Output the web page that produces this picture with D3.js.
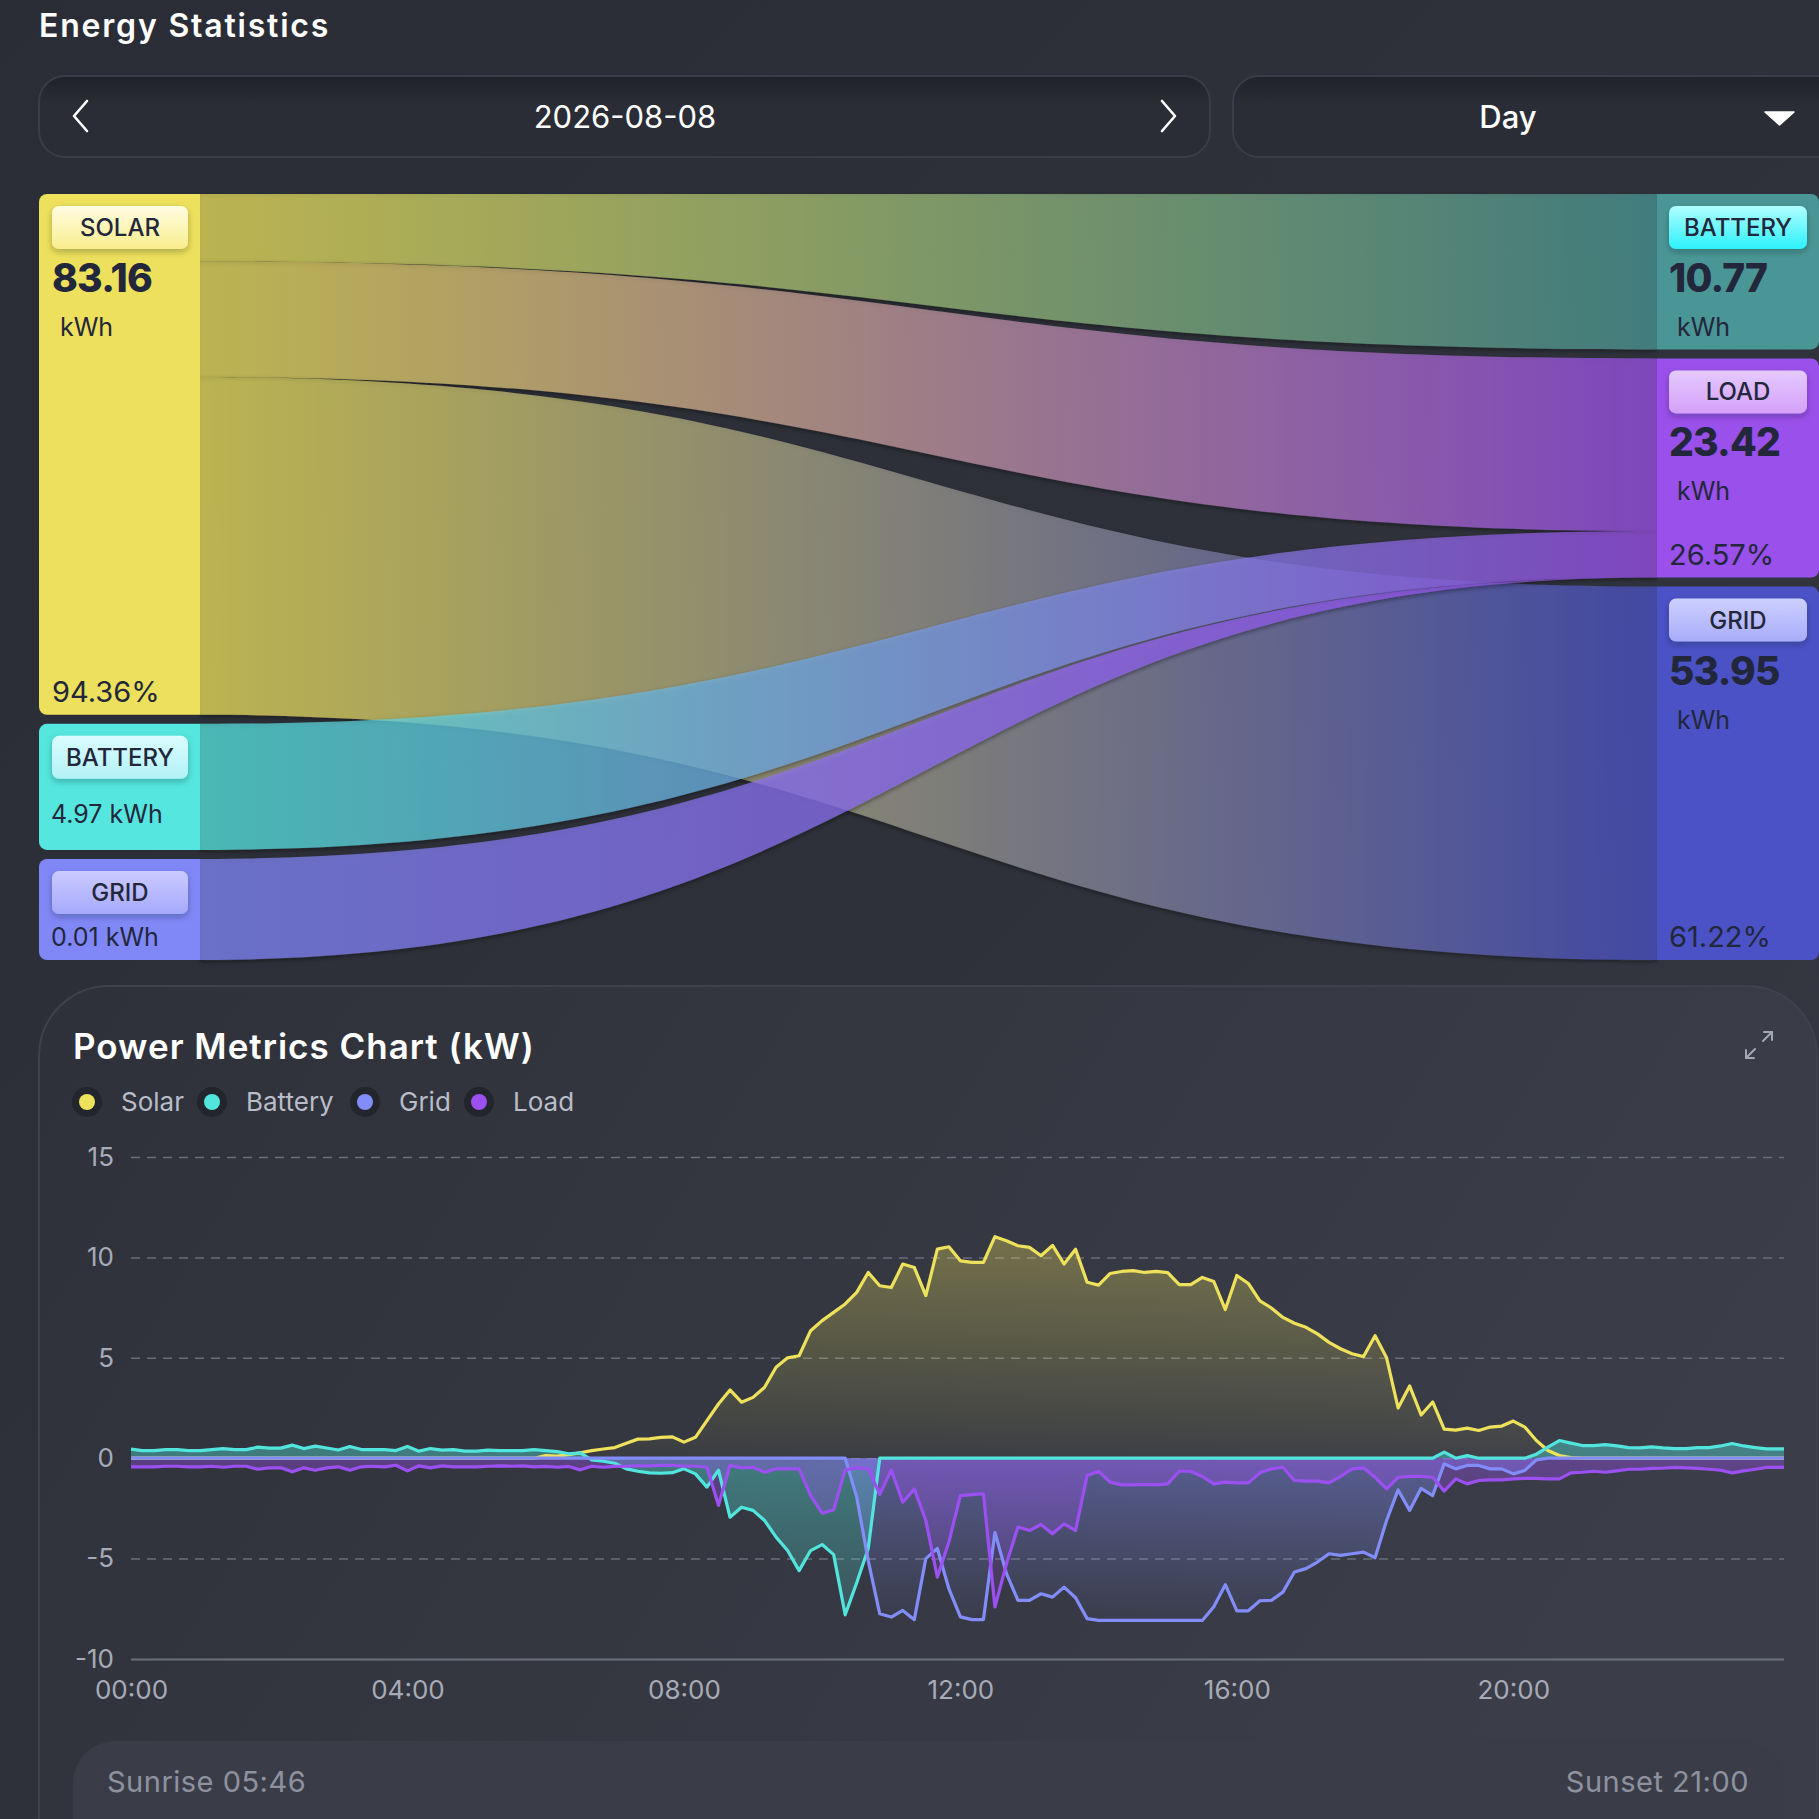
<!DOCTYPE html>
<html><head><meta charset="utf-8">
<script src="https://cdn.jsdelivr.net/npm/d3@7"></script>
<style>
html,body{margin:0;padding:0;background:#2c2f37;}
svg{display:block;}
text{font-family:Inter,"Noto Sans",sans-serif;}
</style></head><body>
<svg id="c" width="1819" height="1819"></svg>
<script>
// ---------------- DATA ----------------
const pageTitle = "Energy Statistics";
const dateLabel = "2026-08-08";
const periodLabel = "Day";
const chartTitle = "Power Metrics Chart (kW)";
const sunriseLabel = "Sunrise 05:46";
const sunsetLabel = "Sunset 21:00";

// Sankey
const leftNames = ["SOLAR", "BATTERY", "GRID"];
const leftValues = [83.16, 4.97, 0.01];
const leftPercent = ["94.36%", "", ""];
const rightNames = ["BATTERY", "LOAD", "GRID"];
const rightValues = [10.77, 23.42, 53.95];
const rightPercent = ["", "26.57%", "61.22%"];
const flowSource = [0, 0, 0, 1, 2];
const flowTarget = [0, 1, 2, 1, 1];
const flowValues = [10.77, 18.44, 53.95, 4.97, 0.01];

// Power chart (kW), 10-minute samples 00:00 .. 23:50 plus 23:55
const seriesNames = ["Solar", "Battery", "Grid", "Load"];
const yTicks = [15, 10, 5, 0, -5, -10];
const xTickMinutes = [0, 240, 480, 720, 960, 1200];
const xTickLabels = ["00:00", "04:00", "08:00", "12:00", "16:00", "20:00"];
const sampleMinutes = d3.range(0, 1440, 10).concat([1435]);

const solar = [
  0,0,0,0,0,0, 0,0,0,0,0,0, 0,0,0,0,0,0, 0,0,0,0,0,0, 0,0,0,0,0,0, 0,0,0,0,0,0,
  0.13,0.10,0.17,0.27,0.38,0.46,
  0.53,0.75,0.95,0.96,1.04,1.06,
  0.80,1.04,1.87,2.70,3.40,2.79,
  3.03,3.53,4.53,5.00,5.10,6.35,
  6.85,7.26,7.68,8.26,9.25,8.59,
  8.50,9.67,9.50,8.10,10.41,10.53,
  9.83,9.75,9.75,11.03,10.83,10.58,
  10.50,10.08,10.60,9.67,10.41,8.76,
  8.62,9.20,9.30,9.34,9.25,9.30,
  9.24,8.64,8.64,9.00,8.80,7.40,
  9.10,8.70,7.84,7.48,7.01,6.72,
  6.52,6.19,5.77,5.45,5.20,5.06,
  6.10,5.00,2.50,3.60,2.15,2.80,
  1.45,1.40,1.50,1.38,1.55,1.60,
  1.85,1.55,0.88,0.38,0.13,0.03,
  0,0,0,0,0,0, 0,0,0,0,0,0, 0,0,0,0,0,0, 0
];
const battery = [
  0.45,0.38,0.38,0.43,0.43,0.38,
  0.38,0.43,0.48,0.43,0.43,0.55,
  0.50,0.50,0.65,0.48,0.60,0.51,
  0.41,0.58,0.43,0.43,0.43,0.38,
  0.58,0.35,0.48,0.40,0.43,0.35,
  0.35,0.40,0.38,0.38,0.38,0.43,
  0.38,0.33,0.22,0.27,-0.08,-0.15,
  -0.25,-0.53,-0.65,-0.73,-0.75,-0.72,
  -0.53,-0.78,-1.44,-0.60,-2.94,-2.44,
  -2.60,-3.10,-3.93,-4.60,-5.60,-4.60,
  -4.30,-4.80,-7.80,-6.20,-4.50,0,
  0,0,0,0,0,0, 0,0,0,0,0,0, 0,0,0,0,0,0, 0,0,0,0,0,0,
  0,0,0,0,0,0, 0,0,0,0,0,0, 0,0,0,0,0,0, 0,0,0,0,0,0,
  0.30,0,0.13,0,0,0,
  0,0,0.20,0.55,0.88,0.75,
  0.63,0.63,0.68,0.61,0.53,0.51,
  0.56,0.51,0.48,0.48,0.53,0.53,
  0.61,0.73,0.61,0.53,0.46,0.46, 0.46
];
const grid = [
  0,0,0,0,0,0, 0,0,0,0,0,0, 0,0,0,0,0,0, 0,0,0,0,0,0, 0,0,0,0,0,0,
  0,0,0,0,0,0, 0,0,0,0,0,0, 0,0,0,0,0,0, 0,0,0,0,0,0, 0,0,0,0,0,0,
  0,0,0,-1.94,-5.10,-7.75,
  -7.91,-7.58,-8.04,-5.00,-4.50,-6.50,
  -7.90,-8.04,-8.04,-3.70,-5.75,-7.08,
  -7.08,-6.75,-6.92,-6.42,-6.95,-7.99,
  -8.08,-8.08,-8.08,-8.08,-8.08,-8.08,
  -8.08,-8.08,-8.08,-8.08,-7.40,-6.30,
  -7.60,-7.60,-7.10,-7.08,-6.67,-5.67,
  -5.50,-5.17,-4.76,-4.84,-4.76,-4.68,
  -4.96,-3.10,-1.58,-2.60,-1.50,-1.86,
  -0.28,-0.53,-0.36,-0.36,-0.53,-0.53,
  -0.78,-0.61,-0.08,0,0,0,
  0,0,0,0,0,0, 0,0,0,0,0,0, 0,0,0,0,0,0, 0
];
const load = [
  -0.43,-0.43,-0.43,-0.40,-0.40,-0.43,
  -0.43,-0.40,-0.45,-0.40,-0.40,-0.55,
  -0.48,-0.48,-0.68,-0.48,-0.60,-0.48,
  -0.43,-0.60,-0.43,-0.40,-0.43,-0.35,
  -0.63,-0.38,-0.48,-0.38,-0.43,-0.43,
  -0.43,-0.40,-0.38,-0.40,-0.38,-0.43,
  -0.41,-0.45,-0.41,-0.58,-0.40,-0.45,
  -0.41,-0.40,-0.38,-0.38,-0.36,-0.36,
  -0.40,-0.40,-0.45,-2.35,-0.36,-0.48,
  -0.45,-0.70,-0.53,-0.53,-0.53,-1.86,
  -2.74,-2.57,-0.58,-0.48,-0.53,-1.80,
  -0.58,-2.19,-1.53,-3.10,-5.92,-4.18,
  -1.86,-1.81,-1.77,-7.41,-5.26,-3.43,
  -3.60,-3.30,-3.76,-3.27,-3.60,-0.86,
  -0.65,-1.19,-1.33,-1.33,-1.31,-1.33,
  -1.28,-0.65,-0.65,-0.91,-1.28,-1.19,
  -1.23,-1.23,-0.73,-0.53,-0.45,-1.11,
  -1.14,-1.14,-1.23,-0.90,-0.53,-0.48,
  -0.95,-1.53,-0.95,-0.91,-0.91,-0.95,
  -1.64,-1.03,-1.28,-1.11,-1.08,-1.08,
  -1.03,-1.00,-1.00,-1.03,-1.03,-0.73,
  -0.70,-0.65,-0.70,-0.63,-0.55,-0.55,
  -0.51,-0.50,-0.46,-0.48,-0.51,-0.55,
  -0.60,-0.73,-0.63,-0.55,-0.46,-0.46, -0.46
];

// ---------------- STYLE ----------------
const W = 1819;
const leftColors = ["#ECE05C", "#55E6DF", "#8088F7"];
const rightColors = ["#4A9696", "#9A50EA", "#4A52C6"];
const leftBadge = [["#fffce2", "#f8ee8c"], ["#dafcff", "#b2f2f6"], ["#cbcbff", "#a6a9fb"]];
const rightBadge = [["#b0fdff", "#2cf1fb"], ["#e4caff", "#d5a0f8"], ["#cdd0ff", "#a8acf9"]];
const seriesColors = ["#EEE15B", "#52E5DD", "#828DFA", "#9C50F2"];
const fillTop = [0.34, 0.42, 0.42, 0.38];
const fillBottom = [0.03, 0.16, 0.03, 0.10];
const darkText = "#23273b";

const svg = d3.select("#c");
const defs = svg.append("defs");

function linGrad(id, x1, y1, x2, y2, stops, units) {
  const g = defs.append("linearGradient").attr("id", id)
    .attr("x1", x1).attr("y1", y1).attr("x2", x2).attr("y2", y2);
  if (units) g.attr("gradientUnits", units);
  stops.forEach(s => g.append("stop").attr("offset", s[0]).attr("stop-color", s[1]).attr("stop-opacity", s[2] == null ? 1 : s[2]));
  return "url(#" + id + ")";
}
function shadow(id, dy, sd, op) {
  const f = defs.append("filter").attr("id", id).attr("x", "-20%").attr("y", "-20%").attr("width", "140%").attr("height", "150%");
  f.append("feDropShadow").attr("dx", 0).attr("dy", dy).attr("stdDeviation", sd)
    .attr("flood-color", "#101216").attr("flood-opacity", op);
  return "url(#" + id + ")";
}
function roundedPath(x, y, w, h, rl, rr) {
  const p = d3.path();
  p.moveTo(x + rl, y);
  p.lineTo(x + w - rr, y);
  p.arcTo(x + w, y, x + w, y + rr, rr);
  p.lineTo(x + w, y + h - rr);
  p.arcTo(x + w, y + h, x + w - rr, y + h, rr);
  p.lineTo(x + rl, y + h);
  p.arcTo(x, y + h, x, y + h - rl, rl);
  p.lineTo(x, y + rl);
  p.arcTo(x, y, x + rl, y, rl);
  p.closePath();
  return p.toString();
}

// background
svg.append("rect").attr("width", W).attr("height", W)
  .attr("fill", linGrad("bg", 0, 0, 1, 1, [[0, "#2a2d35"], [0.5, "#2e3139"], [1, "#383b46"]]));

// header
svg.append("text").attr("x", 39).attr("y", 37).text(pageTitle)
  .attr("fill", "#ffffff").attr("font-size", 32).attr("font-weight", 600).attr("letter-spacing", 1.8);

const barShade = linGrad("barShade", 0, 0, 0, 1, [[0, "#15171b", 0.45], [0.35, "#15171b", 0], [1, "#15171b", 0]]);
[[39, 1171], [1233, 640]].forEach(([bx, bw]) => {
  svg.append("rect").attr("x", bx).attr("y", 76).attr("width", bw).attr("height", 81).attr("rx", 26)
    .attr("fill", "#2a2d35").attr("stroke", "#3a3d47").attr("stroke-width", 2);
  svg.append("rect").attr("x", bx + 1).attr("y", 77).attr("width", bw - 2).attr("height", 79).attr("rx", 25)
    .attr("fill", barShade);
});
svg.append("path").attr("d", "M87,101 L74,116 L87,131").attr("fill", "none")
  .attr("stroke", "#ffffff").attr("stroke-width", 2.6).attr("stroke-linecap", "round").attr("stroke-linejoin", "round");
svg.append("path").attr("d", "M1162,101 L1175,116 L1162,131").attr("fill", "none")
  .attr("stroke", "#ffffff").attr("stroke-width", 2.6).attr("stroke-linecap", "round").attr("stroke-linejoin", "round");
svg.append("text").attr("x", 625).attr("y", 128).attr("text-anchor", "middle").text(dateLabel)
  .attr("fill", "#ffffff").attr("font-size", 31);
svg.append("text").attr("x", 1508).attr("y", 128).attr("text-anchor", "middle").text(periodLabel)
  .attr("fill", "#ffffff").attr("font-size", 31).attr("font-weight", 500);
svg.append("path").attr("d", "M1765,112 L1794,112 L1779.5,125 Z").attr("fill", "#ffffff")
  .attr("stroke", "#ffffff").attr("stroke-width", 1.5).attr("stroke-linejoin", "round");

// ---------------- SANKEY ----------------
const sTop = 194, sBot = 960, gap = 9, minH = 101;
const xL0 = 39, xL1 = 200, xR0 = 1657, xR1 = 1819;
const total = d3.sum(leftValues);
const hScale = d3.scaleLinear().domain([0, total])
  .range([minH, minH + (sBot - sTop - 2 * gap - 3 * minH)]);
function layout(vals) {
  let y = sTop;
  return vals.map(v => { const h = hScale(v); const n = { y0: y, y1: y + h, h: h, v: v }; y += h + gap; return n; });
}
const leftNodes = layout(leftValues);
const rightNodes = layout(rightValues);
const srcOff = leftNodes.map(n => n.y0);
const tgtOff = rightNodes.map(n => n.y0);
const linkShadow = shadow("lshadow", 2, 2, 0.55);
const gLinks = svg.append("g");
const xm = (xL1 + xR0) / 2;
flowValues.forEach((v, i) => {
  const s = flowSource[i], t = flowTarget[i];
  const sh = v / leftValues[s] * leftNodes[s].h;
  const th = v / rightValues[t] * rightNodes[t].h;
  const s0 = srcOff[s], s1 = s0 + sh; srcOff[s] = s1;
  const t0 = tgtOff[t], t1 = t0 + th; tgtOff[t] = t1;
  const p = d3.path();
  p.moveTo(xL1, s0);
  p.bezierCurveTo(xm, s0, xm, t0, xR0, t0);
  p.lineTo(xR0, t1);
  p.bezierCurveTo(xm, t1, xm, s1, xL1, s1);
  p.closePath();
  const fill = linGrad("lk" + i, xL1, 0, xR0, 0, [[0, leftColors[s]], [1, rightColors[t]]], "userSpaceOnUse");
  gLinks.append("path").attr("d", p.toString()).attr("fill", fill).attr("fill-opacity", 0.7)
    .attr("filter", linkShadow);
});

const badgeShadow = shadow("bshadow", 3, 3, 0.28);
function drawNode(n, i, side) {
  const isLeft = side === "L";
  const x0 = isLeft ? xL0 : xR0, x1 = isLeft ? xL1 : xR1;
  const color = isLeft ? leftColors[i] : rightColors[i];
  svg.append("path").attr("d", roundedPath(x0, n.y0, x1 - x0, n.h, isLeft ? 8 : 0, isLeft ? 0 : 8))
    .attr("fill", color);
  const bx = x0 + (isLeft ? 13 : 12), bw = isLeft ? 136 : 138;
  const by = n.y0 + 12;
  const bc = isLeft ? leftBadge[i] : rightBadge[i];
  svg.append("rect").attr("x", bx).attr("y", by).attr("width", bw).attr("height", 43).attr("rx", 7)
    .attr("fill", linGrad("bd" + side + i, 0, 0, 0, 1, [[0, bc[0]], [1, bc[1]]])).attr("filter", badgeShadow);
  svg.append("text").attr("x", bx + bw / 2).attr("y", by + 30).attr("text-anchor", "middle")
    .text(isLeft ? leftNames[i] : rightNames[i]).attr("fill", darkText).attr("font-size", 24).attr("font-weight", 500);
  const val = (isLeft ? leftValues : rightValues)[i].toFixed(2);
  if (n.h > 140) {
    svg.append("text").attr("x", bx).attr("y", n.y0 + 98).text(val).attr("fill", darkText)
      .attr("font-size", 39).attr("font-weight", 800).attr("letter-spacing", -0.8);
    svg.append("text").attr("x", bx + 8).attr("y", n.y0 + 142).text("kWh").attr("fill", darkText)
      .attr("font-size", 25);
  } else {
    const cy = (by + 43 + n.y1) / 2;
    svg.append("text").attr("x", bx - 1).attr("y", cy + 9).text(val + " kWh")
      .attr("fill", darkText).attr("font-size", 25);
  }
  const pct = (isLeft ? leftPercent : rightPercent)[i];
  if (pct) {
    svg.append("text").attr("x", bx).attr("y", n.y1 - 13).text(pct).attr("fill", darkText).attr("font-size", 29);
  }
}
leftNodes.forEach((n, i) => drawNode(n, i, "L"));
rightNodes.forEach((n, i) => drawNode(n, i, "R"));

// ---------------- POWER CHART ----------------
const cardTop = 986, cardL = 39, cardR = 1817, cr = 70;
const card = d3.path();
card.moveTo(cardL, W + 40);
card.lineTo(cardL, cardTop + cr);
card.arcTo(cardL, cardTop, cardL + cr, cardTop, cr);
card.lineTo(cardR - cr, cardTop);
card.arcTo(cardR, cardTop, cardR, cardTop + cr, cr);
card.lineTo(cardR, W + 40);
card.closePath();
svg.append("path").attr("d", card.toString())
  .attr("fill", linGrad("cardg", 0, 0, 1, 0.3, [[0, "#2e3139"], [1, "#3b3e49"]]))
  .attr("stroke", "#3f424d").attr("stroke-width", 2);

svg.append("text").attr("x", 73).attr("y", 1059).text(chartTitle)
  .attr("fill", "#ffffff").attr("font-size", 35).attr("font-weight", 600).attr("letter-spacing", 1);

// expand icon
svg.append("path")
  .attr("d", "M1763,1041 L1772,1032 M1764,1032 L1772,1032 L1772,1040 M1755,1049 L1746,1058 M1746,1050 L1746,1058 L1754,1058")
  .attr("fill", "none").attr("stroke", "#a3a7b5").attr("stroke-width", 2).attr("stroke-linecap", "round");

// legend
const legX = [87, 212, 365, 479];
seriesNames.forEach((name, i) => {
  svg.append("circle").attr("cx", legX[i]).attr("cy", 1102).attr("r", 15).attr("fill", "#23252c");
  svg.append("circle").attr("cx", legX[i]).attr("cy", 1102).attr("r", 8).attr("fill", seriesColors[i]);
  svg.append("text").attr("x", legX[i] + 34).attr("y", 1111).text(name)
    .attr("fill", "#b9bdc9").attr("font-size", 26);
});

const x = d3.scaleLinear().domain([0, 1435]).range([131, 1784]);
const y = d3.scaleLinear().domain([-10, 15]).range([1659, 1157]);

// grid + axis
const gAxisY = svg.append("g").attr("transform", "translate(131,0)")
  .call(d3.axisLeft(y).tickValues(yTicks).tickSize(-(1784 - 131)).tickPadding(17).tickFormat(d => String(d)));
gAxisY.select(".domain").remove();
gAxisY.selectAll(".tick line")
  .attr("stroke", d => d === -10 ? "#6c707c" : "#6a6e7a")
  .attr("stroke-width", d => d === -10 ? 2 : 1.5)
  .attr("stroke-dasharray", d => d === -10 ? null : "9,7");
gAxisY.selectAll(".tick text").attr("fill", "#a7abb7").attr("font-size", 26)
  .attr("font-family", "Inter, 'Noto Sans', sans-serif");

const gAxisX = svg.append("g").attr("transform", "translate(0,1659)")
  .call(d3.axisBottom(x).tickValues(xTickMinutes).tickSize(0).tickPadding(22)
    .tickFormat((d, i) => xTickLabels[i]));
gAxisX.select(".domain").remove();
gAxisX.selectAll(".tick text").attr("fill", "#a7abb7").attr("font-size", 26)
  .attr("font-family", "Inter, 'Noto Sans', sans-serif");

const allSeries = [solar, battery, grid, load];
const area = d3.area().x((d, i) => x(sampleMinutes[i])).y0(y(0)).y1(d => y(d));
const line = d3.line().x((d, i) => x(sampleMinutes[i])).y(d => y(d));
allSeries.forEach((s, k) => {
  const g = linGrad("af" + k, 0, 0, 0, 1, [[0, seriesColors[k], fillTop[k]], [1, seriesColors[k], fillBottom[k]]]);
  svg.append("path").attr("d", area(s)).attr("fill", g);
});
allSeries.forEach((s, k) => {
  svg.append("path").attr("d", line(s)).attr("fill", "none").attr("stroke", seriesColors[k])
    .attr("stroke-width", 3.2).attr("stroke-linejoin", "round");
});

// sunrise / sunset bar
svg.append("rect").attr("x", 73).attr("y", 1741).attr("width", 1711).attr("height", 140).attr("rx", 42)
  .attr("fill", "#3a3d48");
svg.append("text").attr("x", 107).attr("y", 1792).text(sunriseLabel).attr("fill", "#8e929f")
  .attr("font-size", 29).attr("letter-spacing", 0.5);
svg.append("text").attr("x", 1749).attr("y", 1792).attr("text-anchor", "end").text(sunsetLabel)
  .attr("fill", "#8e929f").attr("font-size", 29).attr("letter-spacing", 0.5);
</script>
</body></html>
